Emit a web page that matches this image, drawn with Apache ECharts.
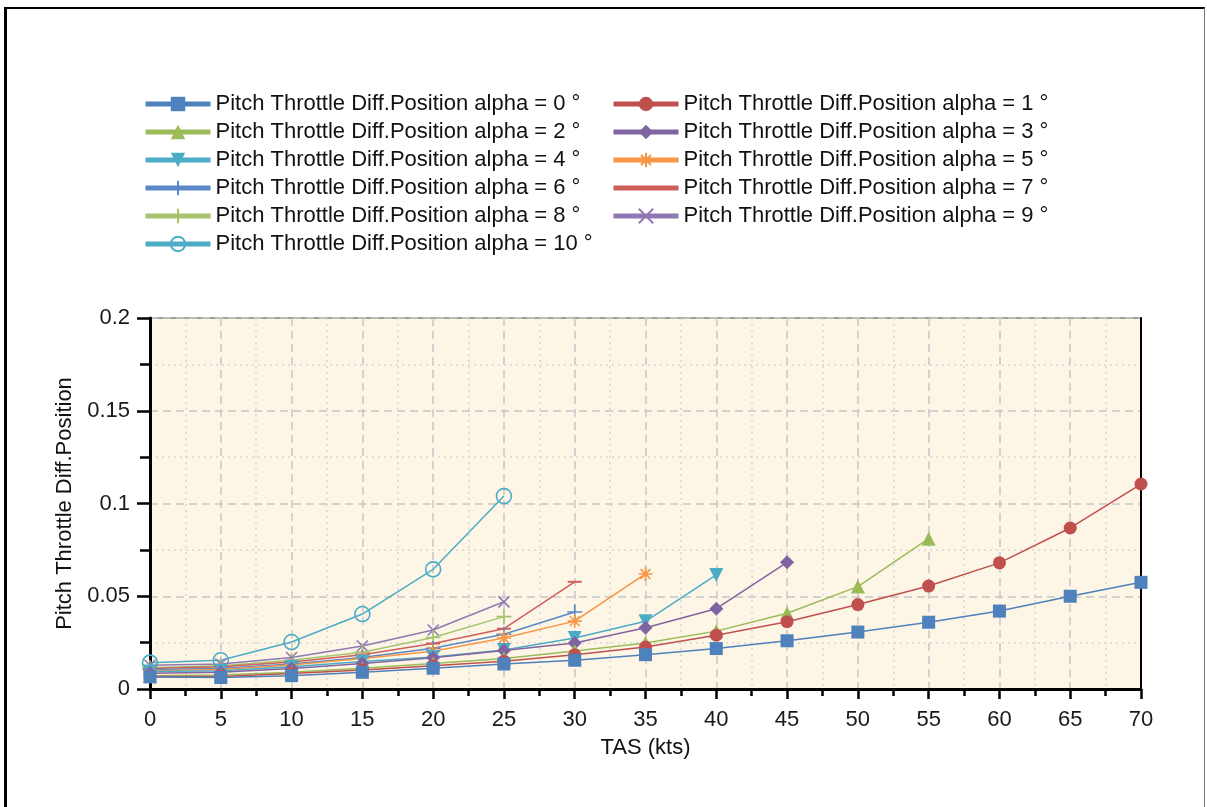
<!DOCTYPE html>
<html>
<head>
<meta charset="utf-8">
<title>Pitch Throttle Diff.Position</title>
<script src="https://cdn.jsdelivr.net/npm/echarts@6/dist/echarts.min.js"></script>
<style>
  html, body { margin: 0; padding: 0; background: #fff; }
  #chart { position: absolute; left: 0; top: 0; width: 1207px; height: 807px; }
  #frame {
    position: absolute; left: 4px; top: 7px; width: 1197px; height: 820px;
    border-left: 3px solid #000; border-top: 2px solid #000; border-right: 1px solid #777;
    pointer-events: none;
  }
</style>
</head>
<body>
<div id="chart"></div>
<div id="frame"></div>
<script>
// TAS (kts) sample points
const tas = [0, 5, 10, 15, 20, 25, 30, 35, 40, 45, 50, 55, 60, 65, 70];

// values, one array per alpha
const alpha0 = [0.0065, 0.0062, 0.0072, 0.009, 0.0112, 0.0135, 0.0155, 0.0185, 0.0218, 0.026, 0.0307, 0.036, 0.042, 0.050, 0.0575];
const alpha1 = [0.0068, 0.0068, 0.0083, 0.0102, 0.0125, 0.015, 0.0185, 0.0226, 0.029, 0.0363, 0.0455, 0.0555, 0.068, 0.0868, 0.1105];
const alpha2 = [0.0072, 0.0075, 0.009, 0.0112, 0.0138, 0.0165, 0.0205, 0.0248, 0.0312, 0.0408, 0.0552, 0.081];
const alpha3 = [0.0085, 0.009, 0.011, 0.0138, 0.0168, 0.0208, 0.0248, 0.033, 0.0433, 0.0683];
const alpha4 = [0.0095, 0.0098, 0.012, 0.0148, 0.0172, 0.021, 0.0275, 0.0365, 0.0615];
const alpha5 = [0.0098, 0.0105, 0.013, 0.0165, 0.0203, 0.0275, 0.0366, 0.062];
const alpha6 = [0.0105, 0.011, 0.0135, 0.017, 0.022, 0.0295, 0.0415];
const alpha7 = [0.011, 0.012, 0.0145, 0.0185, 0.0245, 0.0325, 0.0578];
const alpha8 = [0.0115, 0.0125, 0.0155, 0.0198, 0.0278, 0.039];
const alpha9 = [0.0128, 0.0135, 0.017, 0.0232, 0.0318, 0.047];
const alpha10 = [0.0142, 0.0155, 0.0253, 0.0404, 0.0645, 0.104];

const yTicks = [0, 0.05, 0.1, 0.15, 0.2];

const FONT = "'Liberation Sans', Arial, sans-serif";
const PLUS = 'path://M0,-1L0,1M-1,0L1,0';
const CROSS = 'path://M-1,-1L1,1M-1,1L1,-1';
const STAR = 'path://M0,-1L0,1M-1,0L1,0M-0.7,-0.7L0.7,0.7M-0.7,0.7L0.7,-0.7';
const BAR = 'path://M0,0L13,0L13,1L0,1Z'; // legend icon: plain thick line

const seriesDefs = [
  { a: 0, vals: alpha0, color: '#4F81BD', symbol: 'rect', size: 13 },
  { a: 1, vals: alpha1, color: '#C0504D', symbol: 'circle', size: 13 },
  { a: 2, vals: alpha2, color: '#9BBB59', symbol: 'triangle', size: 14 },
  { a: 3, vals: alpha3, color: '#8064A2', symbol: 'diamond', size: 14 },
  { a: 4, vals: alpha4, color: '#4BACC6', symbol: 'triangle', size: 14, rotate: 180 },
  { a: 5, vals: alpha5, color: '#F79646', symbol: STAR, size: 14, stroke: true },
  { a: 6, vals: alpha6, color: '#5A88C6', symbol: PLUS, size: 15, stroke: true },
  { a: 7, vals: alpha7, color: '#CE5F5B', symbol: 'rect', size: [14, 2], legendIcon: BAR },
  { a: 8, vals: alpha8, color: '#A6C46E', symbol: PLUS, size: 15, stroke: true },
  { a: 9, vals: alpha9, color: '#9078B2', symbol: CROSS, size: 11, stroke: true },
  { a: 10, vals: alpha10, color: '#4BACC6', symbol: 'circle', size: 15, hollow: true }
];

function nameOf(a) {
  return 'Pitch Throttle Diff.Position alpha = ' + a + ' °';
}

function legendItem(d) {
  return d.legendIcon ? { name: nameOf(d.a), icon: d.legendIcon } : nameOf(d.a);
}

const series = seriesDefs.map(function (d) {
  let style;
  if (d.stroke) {
    style = { color: d.color, borderColor: d.color, borderWidth: 1.6 };
  } else if (d.hollow) {
    style = { color: 'rgba(0,0,0,0)', borderColor: d.color, borderWidth: 1.6 };
  } else {
    style = { color: d.color };
  }
  return {
    name: nameOf(d.a),
    type: 'line',
    data: d.vals.map(function (v, i) { return [tas[i], v]; }),
    symbol: d.symbol,
    symbolSize: d.size,
    symbolRotate: d.rotate || 0,
    showAllSymbol: true,
    lineStyle: { color: d.color, width: 1.5 },
    itemStyle: style,
    emphasis: { disabled: true },
    z: 20 - d.a
  };
});

const legendBase = {
  orient: 'vertical',
  top: 93,
  padding: 0,
  itemWidth: 65,
  itemHeight: 18,
  itemGap: 6,
  selectedMode: false,
  lineStyle: { width: 5 },
  textStyle: { fontFamily: FONT, fontSize: 22, lineHeight: 22, color: '#111' }
};

const chart = echarts.init(document.getElementById('chart'));
chart.setOption({
  animation: false,
  backgroundColor: 'transparent',
  textStyle: { fontFamily: FONT },
  legend: [
    Object.assign({}, legendBase, {
      left: 143,
      data: seriesDefs.filter(function (d) { return d.a % 2 === 0; }).map(legendItem)
    }),
    Object.assign({}, legendBase, {
      left: 611,
      data: seriesDefs.filter(function (d) { return d.a % 2 === 1; }).map(legendItem)
    })
  ],
  grid: {
    left: 150, right: 66, top: 318, bottom: 118,
    show: true, backgroundColor: '#FDF5E6', borderColor: '#444', borderWidth: 1
  },
  xAxis: {
    type: 'value',
    min: 0, max: 70, interval: 5,
    name: 'TAS (kts)',
    nameLocation: 'middle',
    nameGap: 48,
    nameTextStyle: { fontFamily: FONT, fontSize: 22, color: '#111' },
    axisLine: { lineStyle: { color: '#000', width: 3 } },
    axisTick: { length: 10, lineStyle: { color: '#000', width: 2.5 } },
    minorTick: { show: true, splitNumber: 2, length: 7, lineStyle: { color: '#000', width: 2.5 } },
    axisLabel: { margin: 20, fontFamily: FONT, fontSize: 22, color: '#1a1a1a' },
    splitLine: { show: true, lineStyle: { color: '#c6c6c6', type: [8, 5], width: 1.5 } },
    minorSplitLine: { show: true, lineStyle: { color: '#d6d6d6', type: [2, 4], width: 1.5 } }
  },
  yAxis: [
    {
      type: 'value',
      min: yTicks[0], max: yTicks[yTicks.length - 1], interval: 0.05,
      name: 'Pitch Throttle Diff.Position',
      nameLocation: 'middle',
      nameGap: 63,
      nameTextStyle: { fontFamily: FONT, fontSize: 22, color: '#111' },
      axisLine: { show: true, lineStyle: { color: '#000', width: 3 } },
      axisTick: { show: true, length: 13, lineStyle: { color: '#000', width: 2.5 } },
      minorTick: { show: true, splitNumber: 2, length: 10, lineStyle: { color: '#000', width: 2.5 } },
      axisLabel: {
        margin: 20, fontFamily: FONT, fontSize: 22, color: '#1a1a1a',
        formatter: function (v) { return String(+v.toFixed(3)); }
      },
      splitLine: { show: true, lineStyle: { color: '#c6c6c6', type: [8, 5], width: 1.5 } },
      minorSplitLine: { show: true, lineStyle: { color: '#d6d6d6', type: [2, 4], width: 1.5 } }
    },
    {
      type: 'value',
      position: 'right',
      min: yTicks[0], max: yTicks[yTicks.length - 1], interval: 0.05,
      axisLine: { show: true, lineStyle: { color: '#000', width: 2 } },
      axisTick: { show: false },
      axisLabel: { show: false },
      splitLine: { show: false }
    }
  ],
  series: series
});
</script>
</body>
</html>
